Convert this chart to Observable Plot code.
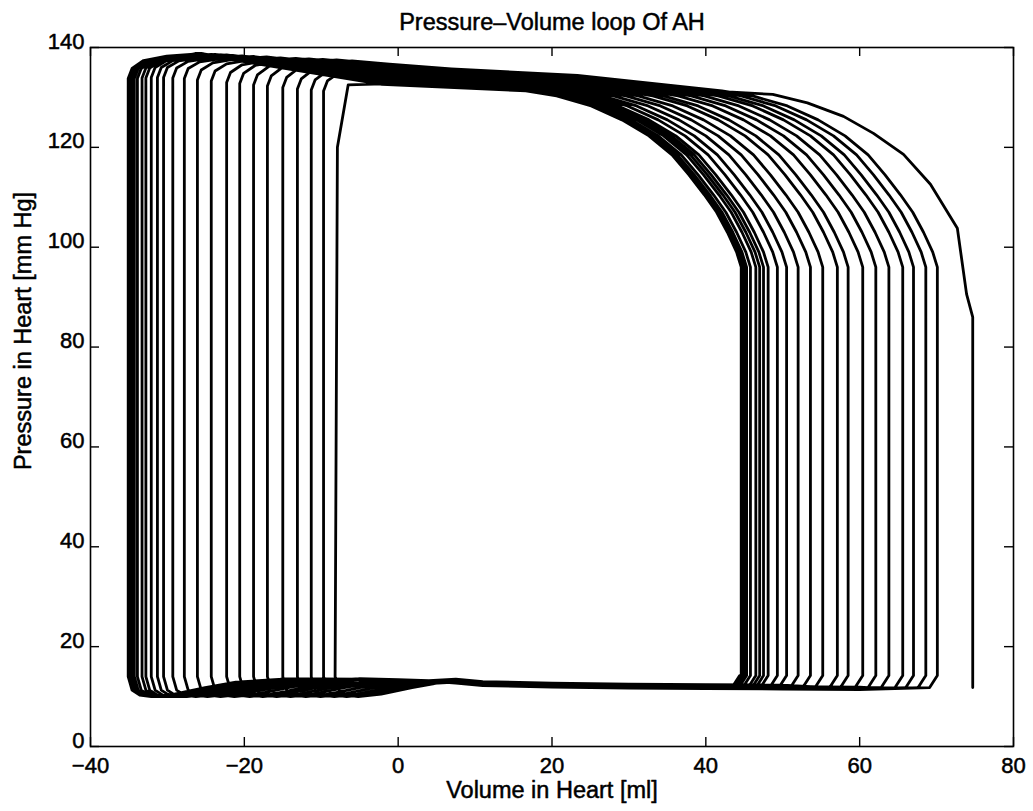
<!DOCTYPE html>
<html>
<head>
<meta charset="utf-8">
<script src="https://cdn.jsdelivr.net/npm/d3@7"></script>
<script src="https://cdn.jsdelivr.net/npm/@observablehq/plot@0.6"></script>
<style>
  body { margin: 0; background: #fff; }
</style>
</head>
<body>
<div id="chart"></div>
<script>
// Successive heart cycles of the artificial heart, converging to a steady loop.
// End-diastolic volumes (right edge of each loop), ml
const edv = [74.7, 70.1, 68.6, 67.0, 65.6, 63.8, 62.1, 60.4, 58.5, 57.1, 55.2, 53.6,
             52.0, 50.5, 49.3, 48.1, 47.5, 47.0, 46.5, 45.8, 45.3, 45.0, 44.8, 44.6, 44.4];
// End-systolic volumes (left edge of each loop), ml
const esv = [-8.2, -9.7, -11.3, -13.1, -15.0, -17.0, -18.8, -20.6, -22.3, -24.3, -26.1, -27.8,
             -29.3, -30.5, -31.3, -32.1, -32.8, -33.3, -33.9, -34.3, -34.6, -34.8, -35.0, -35.1];
// Pressure where each loop leaves the plateau at end of ejection, mm Hg
const leftTop = [132.5, 133.3, 133.5, 133.7, 134.0, 134.3, 134.5, 134.8, 135.0, 135.3, 135.5, 135.8,
                 135.9, 136.0, 136.0, 136.0, 135.9, 135.9, 135.8, 135.8, 135.8, 135.8, 135.8, 135.8];
// Peak ejection pressure of each loop, mm Hg
const peakP = [132.8, 136.3, 136.6, 137.0, 137.3, 137.5, 137.6, 137.7, 137.8, 137.9, 138.1, 138.2,
               138.3, 138.4, 138.5, 138.5, 138.6, 138.6, 138.6, 138.7, 138.7, 138.7, 138.7, 138.7];
// Pressure at the knee of the ejection plateau, mm Hg
const kneeP = [132.8, 134.4, 134.3, 134.2, 134.1, 134.0, 133.9, 133.8, 133.7, 133.6, 133.5, 133.4,
               133.3, 133.2, 133.1, 133.0, 132.9, 132.8, 132.7, 132.7, 132.6, 132.6, 132.6, 132.6];
// Per-cycle offset of the filling line, mm Hg
const fillShift = [-0.6, -0.5, -0.4, -0.3, -0.2, -0.1, 0, 0.1, 0.2, 0.2, 0.2, 0.1,
                   0.1, 0.1, 0, 0, 0, 0, 0, 0, 0, 0, 0, 0];

// Shoulder where isovolumic contraction turns into ejection (offset from edv, pressure)
const shoulderDV = [0, -0.6, -1.8, -3.2, -4.8, -6.8, -9.0, -12.0, -15.5, -19.5, -24.0, -28.0];
const shoulderP  = [96, 99, 103, 107, 110.5, 114.5, 118.5, 122.3, 125.5, 128.3, 130.3, 131.3];
// Knee and peak positions along the plateau (offset from esv)
const kneeDV = 33;
const peakDV = 9;
// Rise from the end-of-ejection corner up to the peak (offset from esv, share of the rise)
const riseDV   = [5, 2, 0.5];
const riseFrac = [0.85, 0.55, 0];
const cornerDrop = 2.0;

// The very first cycle starts from rest, rises lower and ejects at lower pressure
const firstStartP = 11.8;
const firstShoulderDV = [0, -0.8, -2.0, -5.5, -9.0, -12.9, -16.8, -21.5, -26.0];
const firstShoulderP  = [86, 90.6, 103.8, 112.6, 118.6, 122.8, 126.2, 128.9, 130.6];
const firstTopV = [30, 10, -2, -6.5, -7.9];
const firstTopP = [132.2, 132.6, 132.7, 132.5, 120];

// Relaxation corner and early filling (offset from esv, pressure)
const relaxDV = [0, 0.5, 1.5, 3, 6, 10, 14];
const relaxP  = [14, 11.3, 10.3, 10.0, 10.5, 11.8, 12.9];
// Filling line (volume, pressure)
const fillV = [-25, -15, -5, 0, 4, 7.5, 11, 20, 30, 40, 50, 60, 70];
const fillP = [13.4, 13.5, 13.4, 13.2, 13.0, 13.3, 12.8, 12.5, 12.3, 12.2, 12.1, 12.0, 11.9];
// End of filling just before contraction (offset from edv, pressure)
const fillEndDV = [-1.0, 0];
const fillEndP  = [11.8, 14.2];

const xTicks = [-40, -20, 0, 20, 40, 60, 80];
const yTicks = [0, 20, 40, 60, 80, 100, 120, 140];

const titleText = "Pressure\u2013Volume loop Of AH";
const xLabel = "Volume in Heart [ml]";
const yLabel = "Pressure in Heart [mm Hg]";

// Build the continuous trajectory through all cycles
const pts = [];
pts.push({v: edv[0], p: firstStartP});
for (let k = 0; k < esv.length; k++) {
  if (k === 0) {
    for (let i = 0; i < firstShoulderDV.length; i++) pts.push({v: edv[0] + firstShoulderDV[i], p: firstShoulderP[i]});
    for (let i = 0; i < firstTopV.length; i++) pts.push({v: firstTopV[i], p: firstTopP[i]});
  } else {
    for (let i = 0; i < shoulderDV.length; i++) pts.push({v: edv[k] + shoulderDV[i], p: shoulderP[i]});
    pts.push({v: esv[k] + kneeDV, p: kneeP[k]});
    pts.push({v: esv[k] + peakDV, p: peakP[k]});
    for (let i = 0; i < riseDV.length; i++) {
      pts.push({v: esv[k] + riseDV[i], p: leftTop[k] + riseFrac[i] * (peakP[k] - leftTop[k])});
    }
    pts.push({v: esv[k], p: leftTop[k] - cornerDrop});
  }
  for (let i = 0; i < relaxDV.length; i++) pts.push({v: esv[k] + relaxDV[i], p: relaxP[i]});
  const relaxEnd = esv[k] + relaxDV[relaxDV.length - 1];
  const next = edv[k + 1];
  for (let i = 0; i < fillV.length; i++) {
    if (fillV[i] > relaxEnd + 1 && fillV[i] < next - 1.5) pts.push({v: fillV[i], p: fillP[i] + fillShift[k]});
  }
  for (let i = 0; i < fillEndDV.length; i++) pts.push({v: next + fillEndDV[i], p: fillEndP[i]});
}

const W = 1033, H = 811;
const mL = 90, mR = 20, mT = 47, mB = 65;
const fw = W - mL - mR, fh = H - mT - mB;
const tick = 9;
const font = "'Liberation Sans', Arial, sans-serif";
const ink = {fill: "black", stroke: "black", strokeWidth: 0.5};

const chart = Plot.plot({
  width: W, height: H,
  marginLeft: mL, marginRight: mR, marginTop: mT, marginBottom: mB,
  x: {domain: [-40, 80], axis: null},
  y: {domain: [0, 140], axis: null},
  style: {fontFamily: font, fontSize: "22px", color: "black", background: "white"},
  marks: [
    Plot.line(pts, {x: "v", y: "p", stroke: "black", strokeWidth: 2.8, strokeLinejoin: "round"}),
    Plot.frame({stroke: "black", strokeWidth: 1.6}),
    // inward ticks on all four sides
    Plot.ruleX(xTicks, {x: d => d, insetTop: fh - tick, stroke: "black", strokeWidth: 1.4}),
    Plot.ruleX(xTicks, {x: d => d, insetBottom: fh - tick, stroke: "black", strokeWidth: 1.4}),
    Plot.ruleY(yTicks, {y: d => d, insetRight: fw - tick, stroke: "black", strokeWidth: 1.4}),
    Plot.ruleY(yTicks, {y: d => d, insetLeft: fw - tick, stroke: "black", strokeWidth: 1.4}),
    // tick labels
    Plot.text(xTicks, {x: d => d, frameAnchor: "bottom", dy: 26, text: d => d3.format("d")(d),
      fontSize: 22, ...ink}),
    Plot.text(yTicks, {y: d => d, frameAnchor: "left", dx: -6, dy: -6, textAnchor: "end", text: d => String(d),
      fontSize: 22, ...ink}),
    // title and axis labels
    Plot.text([titleText], {frameAnchor: "top", dy: -34, text: d => d, fontSize: 23.5, ...ink}),
    Plot.text([xLabel], {frameAnchor: "bottom", dy: 51, text: d => d, fontSize: 23.5, ...ink}),
    Plot.text([yLabel], {frameAnchor: "left", dx: -67, dy: -66, rotate: -90, textAnchor: "middle", text: d => d,
      fontSize: 23.5, ariaLabel: "y-label", ...ink})
  ]
});
// the vertical label runs a little longer than its glyph size suggests
d3.select(chart).selectAll('g[aria-label="y-label"] text')
  .attr("textLength", 318).attr("lengthAdjust", "spacingAndGlyphs");
document.getElementById("chart").append(chart);
</script>
</body>
</html>
